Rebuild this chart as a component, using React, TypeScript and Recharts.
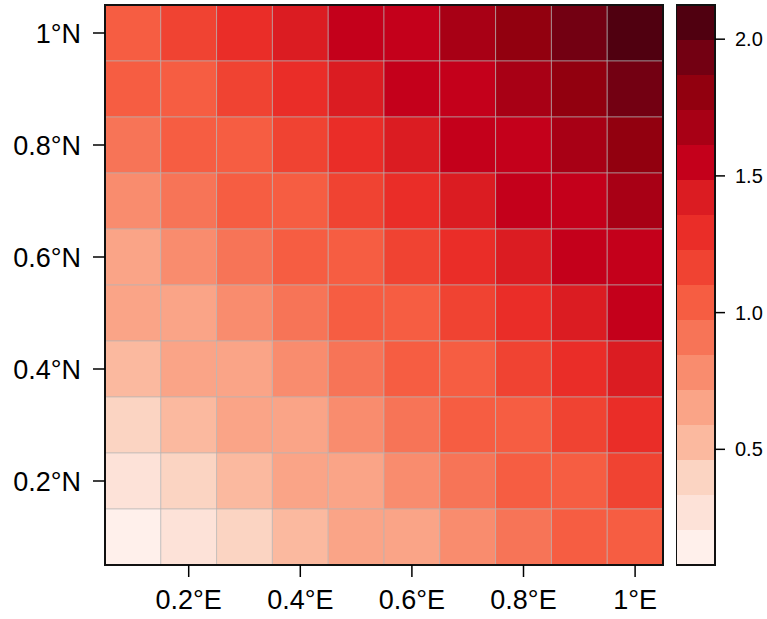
import { ScatterChart, Scatter, XAxis, YAxis, ReferenceArea } from "recharts";

// cell centres (degrees)
const lonCenters = [0.1, 0.2, 0.3, 0.4, 0.5, 0.6, 0.7, 0.8, 0.9, 1.0];
const latCenters = [1.0, 0.9, 0.8, 0.7, 0.6, 0.5, 0.4, 0.3, 0.2, 0.1];

// one row per latitude, top (1°N) to bottom (0.1°N)
const row10 = [1.02, 1.16, 1.29, 1.42, 1.52, 1.59, 1.69, 1.83, 1.96, 2.12];
const row09 = [0.99, 1.08, 1.19, 1.31, 1.44, 1.56, 1.61, 1.72, 1.84, 1.97];
const row08 = [0.9, 1.01, 1.09, 1.2, 1.33, 1.46, 1.55, 1.6, 1.71, 1.83];
const row07 = [0.8, 0.92, 1.0, 1.09, 1.21, 1.34, 1.47, 1.53, 1.6, 1.69];
const row06 = [0.7, 0.79, 0.91, 1.01, 1.09, 1.2, 1.33, 1.44, 1.52, 1.58];
const row05 = [0.61, 0.69, 0.8, 0.93, 1.03, 1.09, 1.21, 1.32, 1.45, 1.53];
const row04 = [0.53, 0.61, 0.7, 0.81, 0.93, 1.02, 1.09, 1.2, 1.33, 1.44];
const row03 = [0.4, 0.52, 0.62, 0.71, 0.82, 0.93, 1.02, 1.09, 1.19, 1.32];
const row02 = [0.26, 0.4, 0.53, 0.63, 0.71, 0.8, 0.93, 1.01, 1.09, 1.19];
const row01 = [0.08, 0.27, 0.41, 0.53, 0.62, 0.7, 0.81, 0.92, 1.01, 1.08];
const rows = [row10, row09, row08, row07, row06, row05, row04, row03, row02, row01];

// colour scale: 16 equal bands
const scaleMin = 0.077;
const scaleMax = 2.125;
const palette = [
  "#fff0eb", "#fde2d8", "#fbd4c2", "#fbb99f", "#faa487", "#f98c6e", "#f77457", "#f65d42",
  "#f04332", "#ea2d28", "#db1c22", "#c4001b", "#a80015", "#92000f", "#730012", "#500010",
];

const lonTicks = [0.2, 0.4, 0.6, 0.8, 1];
const latTicks = [0.2, 0.4, 0.6, 0.8, 1];
const barTicks = [0.5, 1.0, 1.5, 2.0];

const step = (scaleMax - scaleMin) / palette.length;
const bandOf = (v: number) => Math.min(palette.length - 1, Math.max(0, Math.floor((v - scaleMin) / step)));

const cells = rows.flatMap((r, i) => r.map((v, j) => ({ x: lonCenters[j], y: latCenters[i], v })));
const bands = palette.map((c, i) => ({ lo: scaleMin + i * step, hi: scaleMin + (i + 1) * step, color: c }));

const font = "'Liberation Sans', Arial, sans-serif";
const half = 0.05;

export default function App() {
  return (
    <div style={{ position: "absolute", left: 0, top: 0, width: 767, height: 619, background: "#fff" }}>
      <div style={{ position: "absolute", left: 0, top: 0 }}>
        <ScatterChart width={680} height={619} margin={{ top: 5, right: 17, bottom: 0, left: 0 }}>
          <XAxis
            type="number"
            dataKey="x"
            domain={[0.05, 1.05]}
            allowDataOverflow
            ticks={lonTicks}
            tickFormatter={(v) => `${v}°E`}
            height={54}
            axisLine={false}
            tickSize={12}
            tickMargin={13}
            tickLine={{ stroke: "#000", strokeWidth: 1.5 }}
            tick={{ fontSize: 27, fill: "#000", fontFamily: font }}
          />
          <YAxis
            type="number"
            dataKey="y"
            domain={[0.05, 1.05]}
            allowDataOverflow
            ticks={latTicks}
            tickFormatter={(v) => `${v}°N`}
            width={105}
            axisLine={false}
            tickSize={12}
            tickMargin={12}
            tickLine={{ stroke: "#000", strokeWidth: 1.5 }}
            tick={{ fontSize: 27, fill: "#000", fontFamily: font }}
          />
          {cells.map((c, i) => (
            <ReferenceArea
              key={i}
              x1={c.x - half}
              x2={c.x + half}
              y1={c.y - half}
              y2={c.y + half}
              fill={palette[bandOf(c.v)]}
              fillOpacity={1}
              stroke="#b4b4b4"
              strokeOpacity={0.6}
              strokeWidth={1}
            />
          ))}
          <ReferenceArea x1={0.05} x2={1.05} y1={0.05} y2={1.05} fill="none" stroke="#111" strokeWidth={2} />
          <Scatter data={cells} isAnimationActive={false} shape={() => <g />} />
        </ScatterChart>
      </div>

      {/* colour key */}
      <div style={{ position: "absolute", left: 676, top: 0 }}>
        <ScatterChart width={91} height={619} margin={{ top: 5, right: 0, bottom: 54, left: 0 }}>
          <XAxis type="number" dataKey="x" domain={[0, 1]} hide />
          <YAxis
            type="number"
            dataKey="y"
            orientation="right"
            domain={[scaleMin, scaleMax]}
            allowDataOverflow
            ticks={barTicks}
            tickFormatter={(v) => v.toFixed(1)}
            width={52}
            axisLine={false}
            tickSize={10}
            tickMargin={10}
            tickLine={{ stroke: "#000", strokeWidth: 1.5 }}
            tick={{ fontSize: 20, fill: "#000", fontFamily: font }}
          />
          {bands.map((b, i) => (
            <ReferenceArea key={i} x1={0} x2={1} y1={b.lo} y2={b.hi} fill={b.color} fillOpacity={1} stroke="none" />
          ))}
          <ReferenceArea x1={0} x2={1} y1={scaleMin} y2={scaleMax} fill="none" stroke="#111" strokeWidth={2} />
          <Scatter data={[{ x: 0.5, y: 1 }]} isAnimationActive={false} shape={() => <g />} />
        </ScatterChart>
      </div>
    </div>
  );
}
